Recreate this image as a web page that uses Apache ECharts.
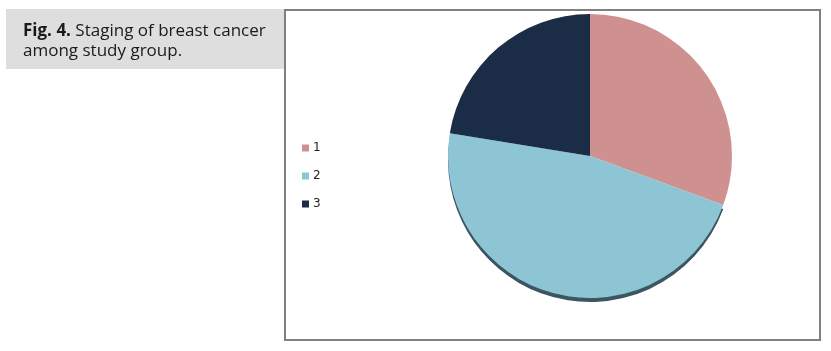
<!DOCTYPE html>
<html>
<head>
<meta charset="utf-8">
<script src="https://cdn.jsdelivr.net/npm/echarts@6/dist/echarts.min.js"></script>
<style>
html,body{margin:0;padding:0;background:#fff;}
#chart{width:831px;height:351px;}
</style>
</head>
<body>
<div id="chart"></div>
<script>
var categories = ['1', '2', '3'];
var values = [15, 23, 11];
var colors = ['#cf9190', '#8dc5d5', '#1b2c47'];
var captionBold = 'Fig. 4.';
var captionLine1 = ' Staging of breast cancer';
var captionLine2 = 'among study group.';

var chart = echarts.init(document.getElementById('chart'));
var data = categories.map(function (c, i) {
  var item = { name: c, value: values[i], itemStyle: { color: colors[i] } };
  if (i === 1) {
    item.itemStyle.shadowColor = '#3b5660';
    item.itemStyle.shadowOffsetY = 4;
    item.itemStyle.shadowOffsetX = 0;
    item.itemStyle.shadowBlur = 0;
  }
  return item;
});

chart.setOption({
  animation: false,
  backgroundColor: '#ffffff',
  graphic: [
    { type: 'rect', shape: { x: 6, y: 9, width: 279, height: 60 }, style: { fill: '#dedede' }, z: 0 },
    { type: 'rect', shape: { x: 285, y: 10, width: 535, height: 330 }, style: { fill: '#ffffff', stroke: '#808080', lineWidth: 2 }, z: 1 },
    {
      type: 'text', left: 23, top: 23, z: 2,
      style: {
        text: '{b|' + captionBold + '}{n|' + captionLine1 + '}\n{n|' + captionLine2 + '}',
        rich: {
          b: { fontFamily: 'Open Sans', fontSize: 17, fontWeight: 'bold', fill: '#1a1a1a', lineHeight: 20 },
          n: { fontFamily: 'Open Sans', fontSize: 17, fill: '#1a1a1a', lineHeight: 20 }
        }
      }
    }
  ],
  legend: {
    orient: 'vertical',
    left: 297,
    top: 136,
    icon: 'rect',
    itemWidth: 7,
    itemHeight: 7,
    itemGap: 14,
    data: categories,
    textStyle: { fontFamily: 'DejaVu Sans', fontSize: 12, color: '#222', lineHeight: 14, padding: [0, 0, 0, -1] }
  },
  series: [{
    type: 'pie',
    center: [590, 156],
    radius: 142,
    startAngle: 90,
    clockwise: true,
    label: { show: false },
    labelLine: { show: false },
    emphasis: { disabled: true },
    data: data
  }]
});
</script>
</body>
</html>
